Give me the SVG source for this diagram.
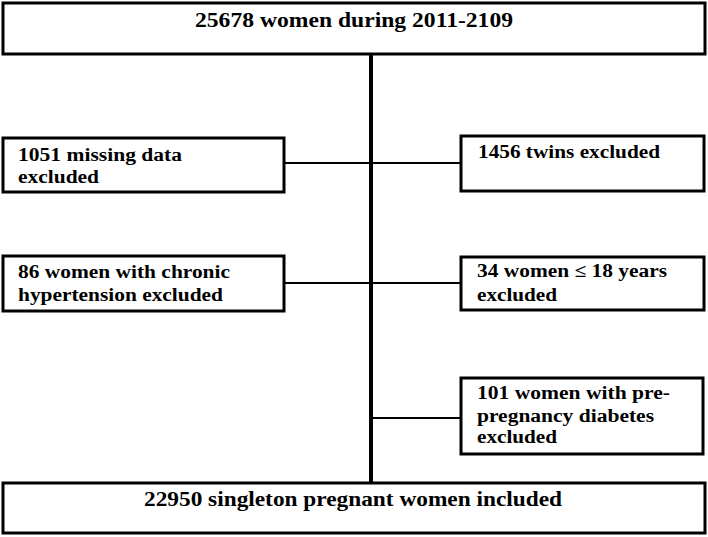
<svg xmlns="http://www.w3.org/2000/svg" width="708" height="537" viewBox="0 0 708 537">
<style>
.box{fill:#fff;stroke:#000;stroke-width:3}
.t{font-family:"Liberation Serif","Times New Roman",serif;font-weight:bold;fill:#000}
.big{font-size:20px}
.sm{font-size:18.5px}
.c{stroke:#000;fill:none}
</style>
<rect width="708" height="537" fill="#fff"/>
<g id="connectors">
<line class="c" x1="371" y1="54" x2="371" y2="483" stroke-width="4"/>
<line class="c" x1="284" y1="163" x2="461" y2="163" stroke-width="2"/>
<line class="c" x1="284" y1="283" x2="461" y2="283" stroke-width="2"/>
<line class="c" x1="371" y1="418" x2="461" y2="418" stroke-width="2"/>
</g>
<g id="top">
<rect class="box" x="3" y="3" width="702" height="51"/>
<text class="t big" x="195" y="27" textLength="318" lengthAdjust="spacingAndGlyphs">25678 women during 2011-2109</text>
</g>
<g id="missing">
<rect class="box" x="3" y="138" width="281" height="54"/>
<text class="t sm" x="18" y="161" textLength="164" lengthAdjust="spacingAndGlyphs">1051 missing data</text>
<text class="t sm" x="18" y="183" textLength="81" lengthAdjust="spacingAndGlyphs">excluded</text>
</g>
<g id="twins">
<rect class="box" x="461" y="136" width="243" height="55"/>
<text class="t sm" x="478" y="158" textLength="182" lengthAdjust="spacingAndGlyphs">1456 twins excluded</text>
</g>
<g id="hypertension">
<rect class="box" x="3" y="256" width="281" height="55"/>
<text class="t sm" x="18" y="278" textLength="212" lengthAdjust="spacingAndGlyphs">86 women with chronic</text>
<text class="t sm" x="18" y="301" textLength="205" lengthAdjust="spacingAndGlyphs">hypertension excluded</text>
</g>
<g id="age">
<rect class="box" x="461" y="257" width="243" height="53"/>
<text class="t sm" x="477" y="277" textLength="190" lengthAdjust="spacingAndGlyphs">34 women ≤ 18 years</text>
<text class="t sm" x="477" y="301" textLength="80" lengthAdjust="spacingAndGlyphs">excluded</text>
</g>
<g id="diabetes">
<rect class="box" x="461" y="378" width="242" height="76"/>
<text class="t sm" x="477" y="399" textLength="193" lengthAdjust="spacingAndGlyphs">101 women with pre-</text>
<text class="t sm" x="477" y="422" textLength="177" lengthAdjust="spacingAndGlyphs">pregnancy diabetes</text>
<text class="t sm" x="477" y="443" textLength="80" lengthAdjust="spacingAndGlyphs">excluded</text>
</g>
<g id="final">
<rect class="box" x="3" y="483" width="702" height="50"/>
<text class="t big" x="144" y="506" textLength="418" lengthAdjust="spacingAndGlyphs">22950 singleton pregnant women included</text>
</g>
</svg>
